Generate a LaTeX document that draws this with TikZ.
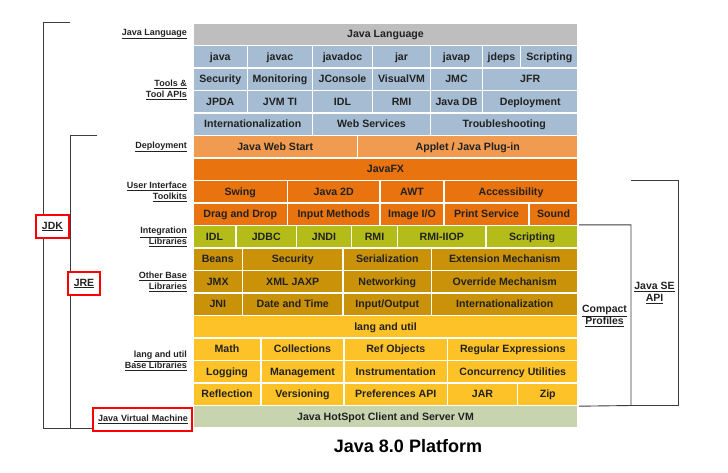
\documentclass[tikz,border=0pt]{standalone}
\usepackage{fontspec}
\setmainfont{Liberation Sans}
\usepackage{tikz}
\usetikzlibrary{backgrounds}
\usetikzlibrary{positioning}

\definecolor{langgray}{RGB}{190,190,190}
\definecolor{toolblue}{RGB}{166,188,210}
\definecolor{deployorange}{RGB}{241,155,80}
\definecolor{uiorange}{RGB}{232,115,15}
\definecolor{integgreen}{RGB}{180,188,26}
\definecolor{basegold}{RGB}{202,146,8}
\definecolor{utilyellow}{RGB}{253,194,40}
\definecolor{vmgreen}{RGB}{200,212,176}
\definecolor{textdark}{RGB}{34,34,34}
\definecolor{linegray}{RGB}{60,60,60}

% one row of the platform grid: #1 row number, #2 style, #3 list x1/x2/text
\newcommand{\platrow}[3]{%
  \foreach \xa/\xb/\txt [count=\k] in {#3}
    \node[cell, #2, minimum width=\xb-\xa] (row#1-\k)
      at ({(\xa+\xb)/2}, {23+22.5*(#1-1)+11.25}) {\txt};
}

\begin{document}
\begin{tikzpicture}[x=1pt, y=-1pt,
      cell/.style={rectangle, draw=white, line width=1.4pt, inner sep=1pt, minimum height=22.5pt,
        text=textdark, text height=1.5ex, text depth=.25ex, font=\bfseries\fontsize{10.6}{12}\selectfont},
      langbox/.style={fill=langgray},
      toolbox/.style={fill=toolblue},
      deploybox/.style={fill=deployorange},
      uibox/.style={fill=uiorange},
      integbox/.style={fill=integgreen},
      basebox/.style={fill=basegold},
      utilbox/.style={fill=utilyellow},
      vmbox/.style={fill=vmgreen},
      sidelabel/.style={anchor=east, align=right, inner sep=0pt, text=textdark, font=\bfseries\fontsize{9}{10.5}\selectfont},
      apilabel/.style={align=center, inner sep=0pt, text=textdark, font=\bfseries\fontsize{10.5}{12}\selectfont},
      redbox/.style={rectangle, draw=red, line width=2.5pt, fill=white, minimum height=23pt, text=textdark,
        font=\bfseries\fontsize{10.5}{12}\selectfont},
      bracket/.style={draw=linegray, line width=0.9pt}
      ]
      \useasboundingbox (0,0) rectangle (728,472);

      % Grid
      \platrow{1}{langbox}{193/578/Java Language}
      \platrow{2}{toolbox}{193/247.5/java, 247.5/312.5/javac, 312.5/372.5/javadoc, 372.5/430.5/jar,
        430.5/482.5/javap, 482.5/520.5/jdeps, 520.5/578/Scripting}
      \platrow{3}{toolbox}{193/247.5/Security, 247.5/312.5/Monitoring, 312.5/372.5/JConsole,
        372.5/430.5/VisualVM, 430.5/482.5/JMC, 482.5/578/JFR}
      \platrow{4}{toolbox}{193/247.5/JPDA, 247.5/312.5/JVM TI, 312.5/372.5/IDL, 372.5/430.5/RMI,
        430.5/482.5/Java DB, 482.5/578/Deployment}
      \platrow{5}{toolbox}{193/312.5/Internationalization, 312.5/430.5/Web Services, 430.5/578/Troubleshooting}
      \platrow{6}{deploybox}{193/357.5/Java Web Start, 357.5/578/{Applet / Java Plug-in}}
      \platrow{7}{uibox}{193/578/JavaFX}
      \platrow{8}{uibox}{193/287.5/Swing, 287.5/380/Java 2D, 380/444/AWT, 444/578/Accessibility}
      \platrow{9}{uibox}{193/287.5/Drag and Drop, 287.5/380/Input Methods, 380/444/{Image I/O},
        444/529/Print Service, 529/578/Sound}
      \platrow{10}{integbox}{193/236/IDL, 236/296.5/JDBC, 296.5/351.5/JNDI, 351.5/397.5/RMI,
        397.5/486/RMI-IIOP, 486/578/Scripting}
      \platrow{11}{basebox}{193/242.5/Beans, 242.5/343/Security, 343/431.5/Serialization, 431.5/578/Extension Mechanism}
      \platrow{12}{basebox}{193/242.5/JMX, 242.5/343/XML JAXP, 343/431.5/Networking, 431.5/578/Override Mechanism}
      \platrow{13}{basebox}{193/242.5/JNI, 242.5/343/Date and Time, 343/431.5/{Input/Output}, 431.5/578/Internationalization}
      \platrow{14}{utilbox}{193/578/lang and util}
      \platrow{15}{utilbox}{193/261/Math, 261/344/Collections, 344/447.5/Ref Objects, 447.5/578/Regular Expressions}
      \platrow{16}{utilbox}{193/261/Logging, 261/344/Management, 344/447.5/Instrumentation, 447.5/578/Concurrency Utilities}
      \platrow{17}{utilbox}{193/261/Reflection, 261/344/Versioning, 344/447.5/Preferences API, 447.5/517.5/JAR, 517.5/578/Zip}
      \platrow{18}{vmbox}{193/578/Java HotSpot Client and Server VM}

      % Left labels
      \node[sidelabel] (lbl-lang) at (187,34) {\underline{Java Language}};
      \node[sidelabel] (lbl-tools) at (187,90) {\underline{Tools \&}\\\underline{Tool APIs}};
      \node[sidelabel] (lbl-deploy) at (187,147) {\underline{Deployment}};
      \node[sidelabel] (lbl-ui) at (187,192) {\underline{User Interface}\\\underline{Toolkits}};
      \node[sidelabel] (lbl-integ) at (187,237) {\underline{Integration}\\\underline{Libraries}};
      \node[sidelabel] (lbl-base) at (187,282) {\underline{Other Base}\\\underline{Libraries}};
      \node[sidelabel] (lbl-util) at (187,361) {\underline{lang and util}\\\underline{Base Libraries}};
      \node[redbox, minimum width=99pt, text width=89pt, inner xsep=5pt, align=right,
        font=\bfseries\fontsize{9}{10.5}\selectfont] (jvm) at (142.5,419.5) {\underline{Java Virtual Machine}};

      \node[redbox, minimum width=33pt, inner xsep=2pt] (jdk) at (52.5,226.5) {\underline{JDK}};
      \node[redbox, minimum width=32pt, inner xsep=2pt] (jre) at (84,283.5) {\underline{JRE}};

      % Right labels
      \node[apilabel] (compact) at (604.5,316) {\underline{Compact}\\\underline{Profiles}};
      \node[apilabel] (javase) at (654.5,293) {\underline{Java SE}\\\underline{API}};

      \node[font=\bfseries\fontsize{18}{20}\selectfont, text=black] (title) at (408,446) {Java 8.0 Platform};

      % Brackets
      \coordinate (jdk-top) at (70,22);
      \coordinate (jdk-bot) at (43,428);
      \coordinate (jre-top) at (97,135.5);
      \coordinate (jre-bot) at (70,428);
      \coordinate (cp-corner) at (631,405.5);
      \coordinate (se-top) at (631,180.5);
      \coordinate (se-corner) at (678,405.5);
      \begin{scope}[on background layer]
        \draw[bracket] (jdk-top) -| (jdk-bot) -- (jvm.west |- jdk-bot);
        \draw[bracket] (jre-top) -| (jre-bot);
        \draw[bracket] (row10-6.north east) -| (cp-corner) -- (row17-5.south east);
        \draw[bracket] (se-top) -| (se-corner) -- (cp-corner);
      \end{scope}

    \end{tikzpicture}
\end{document}
